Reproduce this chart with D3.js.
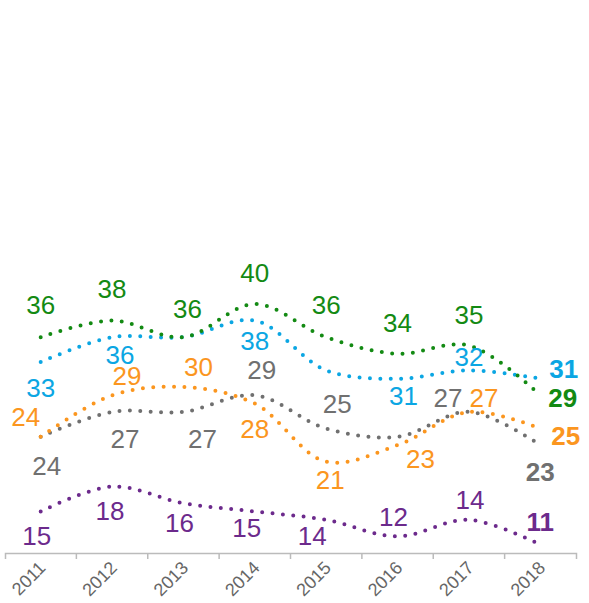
<!DOCTYPE html>
<html>
<head>
<meta charset="utf-8">
<script src="https://cdn.jsdelivr.net/npm/d3@7"></script>
<style>
  body { margin: 0; background: #fff; }
  svg { display: block; font-family: "Liberation Sans", Arial, sans-serif; }
</style>
</head>
<body>
<div id="chart"></div>
<script>
// data
var years = ["2011", "2012", "2013", "2014", "2015", "2016", "2017", "2018"]
var greenValues  = [36, 38, 36, 40, 36, 34, 35, 29]
var blueValues   = [33, 36, 36, 38, 32, 31, 32, 31]
var orangeValues = [24, 29, 30, 28, 21, 23, 27, 25]
var grayValues   = [24, 27, 27, 29, 25, 24, 27, 23]
var purpleValues = [15, 18, 16, 15, 14, 12, 14, 11]

// label placement relative to each point [dx, dy], null = no label
var greenLabels  = [[0,-23],[0,-23],[4,-19],[0,-22],[0,-23],[0,-22],[0,-22]]
var blueLabels   = [[0,35],[8,27],null,[0,29],null,[6,26],[0,-4]]
var orangeLabels = [[-15,-11],[15,-10],[15,-11],[0,34],[4,27],[23,23],[15,-5]]
var grayLabels   = [[6,38],[13,36],[19,36],[7,-16],[11,-16],null,[-21,-5]]
var purpleLabels = [[-4,33],[-2,33],[-4,29],[-8,25],[-14,25],[-4,-10],[1,-11]]

var series = [
  {values: grayValues,   color: "#707070", labels: grayLabels,   last: {dx: 0,  dy: 36, anchor: "middle"}},
  {values: orangeValues, color: "#fb961f", labels: orangeLabels, last: {dx: 11, dy: 16, anchor: "start"}},
  {values: purpleValues, color: "#6c2a8c", labels: purpleLabels, last: {dx: 0,  dy: -14, anchor: "middle"}},
  {values: blueValues,   color: "#0ba6e3", labels: blueLabels,   last: {dx: 9,  dy: -1, anchor: "start"}},
  {values: greenValues,  color: "#138a13", labels: greenLabels,  last: {dx: 8,  dy: 12, anchor: "start"}}
]

var width = 589, height = 603

var svg = d3.select("#chart")
  .append("svg")
  .attr("width", width)
  .attr("height", height)

var x = d3.scaleBand()
  .domain(years)
  .range([5, 576])

var y = d3.scaleLinear()
  .domain([10, 70])
  .range([553, 55])

function cx(i) { return x(years[i]) + x.bandwidth() / 2 }

// axis
var axis = svg.append("g")
  .attr("transform", "translate(0,553)")
  .call(d3.axisBottom(x).tickSize(0).tickSizeOuter(6).tickPadding(0))

axis.attr("font-size", null)

axis.select(".domain")
  .attr("stroke", "#bbb")
  .attr("stroke-width", 1.5)

axis.selectAll(".tick text")
  .attr("fill", "#666")
  .style("font-size", "18px")
  .style("text-anchor", "end")
  .attr("dy", null)
  .attr("y", 0)
  .attr("transform", "translate(6,16) rotate(-45)")

axis.selectAll(".inner-tick")
  .data(years.slice(1))
  .enter()
  .append("line")
    .attr("x1", function(d) { return x(d) })
    .attr("x2", function(d) { return x(d) })
    .attr("y1", 0)
    .attr("y2", 6)
    .attr("stroke", "#bbb")
    .attr("stroke-width", 1.5)

var line = d3.line()
  .x(function(d, i) { return cx(i) })
  .y(function(d) { return y(d) })
  .curve(d3.curveCatmullRom)

series.forEach(function(s) {
  svg.append("path")
    .datum(s.values)
    .attr("d", line)
    .attr("fill", "none")
    .attr("stroke", s.color)
    .attr("stroke-width", 4)
    .attr("stroke-linecap", "round")
    .attr("stroke-dasharray", "0 10.4")
})

series.forEach(function(s) {
  var g = svg.append("g").attr("fill", s.color).style("font-size", "26px")
  s.values.forEach(function(v, i) {
    var last = i == s.values.length - 1
    var off = last ? [s.last.dx, s.last.dy] : s.labels[i]
    if (!off) return
    g.append("text")
      .attr("x", cx(i) + off[0])
      .attr("y", y(v) + off[1])
      .attr("text-anchor", last ? s.last.anchor : "middle")
      .style("font-weight", last ? "bold" : "normal")
      .text(v)
  })
})
</script>
</body>
</html>
